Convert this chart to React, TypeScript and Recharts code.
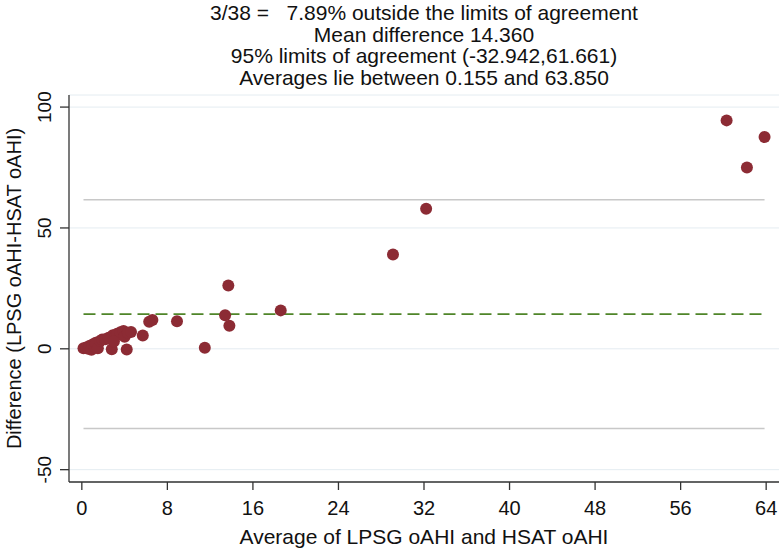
import React from "react";
import {
  ScatterChart,
  Scatter,
  XAxis,
  YAxis,
  CartesianGrid,
  ReferenceLine,
} from "recharts";

// average of the two measurements (x) and their difference (y)
const averages = [
  60.3, 62.2, 63.85, 32.2, 29.1, 18.6, 13.7, 13.4, 13.8, 11.5, 8.9, 6.6, 6.3, 5.7,
  0.155, 0.4, 0.6, 0.7, 0.9, 1.0, 1.2, 1.3, 1.5, 1.7, 1.9, 2.2, 2.5, 2.8, 2.9, 3.1,
  3.3, 3.6, 3.9, 4.0, 4.2, 4.3, 4.6, 3.0,
];
const differences = [
  94.5, 75.0, 87.6, 57.9, 39.0, 15.9, 26.2, 13.9, 9.5, 0.4, 11.4, 11.9, 11.2, 5.5,
  0.2, 0.5, 0.0, 1.2, -0.4, 1.8, 0.8, 2.5, 0.2, 3.2, 3.8, 4.0, 4.6, -0.2, 5.6, 5.0,
  6.2, 6.8, 7.4, 5.0, -0.3, 6.6, 7.0, 3.0,
];

const xTicks = [0, 8, 16, 24, 32, 40, 48, 56, 64];
const yTicks = [-50, 0, 50, 100];

const meanDiff = 14.36;
const lowerLimit = -32.942;
const upperLimit = 61.661;
const minAvg = 0.155;
const maxAvg = 63.85;

const titleLines = [
  "3/38 =   7.89% outside the limits of agreement",
  "Mean difference 14.360",
  "95% limits of agreement (-32.942,61.661)",
  "Averages lie between 0.155 and 63.850",
];

const points = averages.map((a, i) => ({ avg: a, diff: differences[i] }));

const FONT = "'Liberation Sans', Arial, sans-serif";
const AXIS = "#333";

const YTick = (props: any) => {
  const { x, y, payload } = props;
  return (
    <g>
      <line x1={x - 1} x2={x + 8} y1={y} y2={y} stroke={AXIS} strokeWidth={1.3} />
      <text
        x={x - 10}
        y={y}
        transform={`rotate(-90 ${x - 10} ${y})`}
        textAnchor="middle"
        fontSize={19}
        fontFamily={FONT}
        fill="#111"
      >
        {payload.value}
      </text>
    </g>
  );
};

const Dot = (props: any) => {
  const { cx, cy } = props;
  return <circle cx={cx} cy={cy} r={6} fill="#8c2b34" />;
};

export default function App() {
  return (
    <div style={{ position: "absolute", left: 0, top: 0, width: 784, height: 552, background: "#fff" }}>
      <div
        style={{
          position: "absolute",
          left: 69,
          width: 710,
          top: 2,
          textAlign: "center",
          fontFamily: FONT,
          fontSize: 21,
          lineHeight: "21.7px",
          color: "#111",
          whiteSpace: "pre",
        }}
      >
        {titleLines.map((t) => (
          <div key={t}>{t}</div>
        ))}
      </div>
      <ScatterChart
        width={784}
        height={552}
        margin={{ top: 95, right: 5, bottom: 0, left: 0 }}
      >
        <CartesianGrid vertical={false} stroke="#e4ecf1" />
        <XAxis
          type="number"
          dataKey="avg"
          domain={[-1.2, 65.2]}
          ticks={xTicks}
          height={70}
          stroke={AXIS}
          strokeWidth={1.3}
          tickSize={8}
          tick={{ fill: "#111", fontSize: 20, fontFamily: FONT, dy: 9 }}
          label={{
            value: "Average of LPSG oAHI and HSAT oAHI",
            position: "insideBottom",
            offset: 8,
            fill: "#111",
            fontSize: 21,
            fontFamily: FONT,
          }}
        />
        <YAxis
          type="number"
          dataKey="diff"
          domain={[-55.1, 105]}
          ticks={yTicks}
          width={69}
          stroke={AXIS}
          strokeWidth={1.3}
          tickLine={false}
          tick={<YTick />}
          label={{
            value: "Difference (LPSG oAHI-HSAT oAHI)",
            angle: -90,
            position: "insideLeft",
            offset: 14,
            style: { textAnchor: "middle" },
            fill: "#111",
            fontSize: 20,
            fontFamily: FONT,
          }}
        />
        <ReferenceLine
          segment={[
            { x: minAvg, y: upperLimit },
            { x: maxAvg, y: upperLimit },
          ]}
          stroke="#c8c8c8"
          strokeWidth={1.5}
        />
        <ReferenceLine
          segment={[
            { x: minAvg, y: lowerLimit },
            { x: maxAvg, y: lowerLimit },
          ]}
          stroke="#c8c8c8"
          strokeWidth={1.5}
        />
        <ReferenceLine
          segment={[
            { x: minAvg, y: meanDiff },
            { x: maxAvg, y: meanDiff },
          ]}
          stroke="#4f8529"
          strokeWidth={1.6}
          strokeDasharray="12 6"
        />
        <Scatter data={points} shape={<Dot />} isAnimationActive={false} />
      </ScatterChart>
    </div>
  );
}
